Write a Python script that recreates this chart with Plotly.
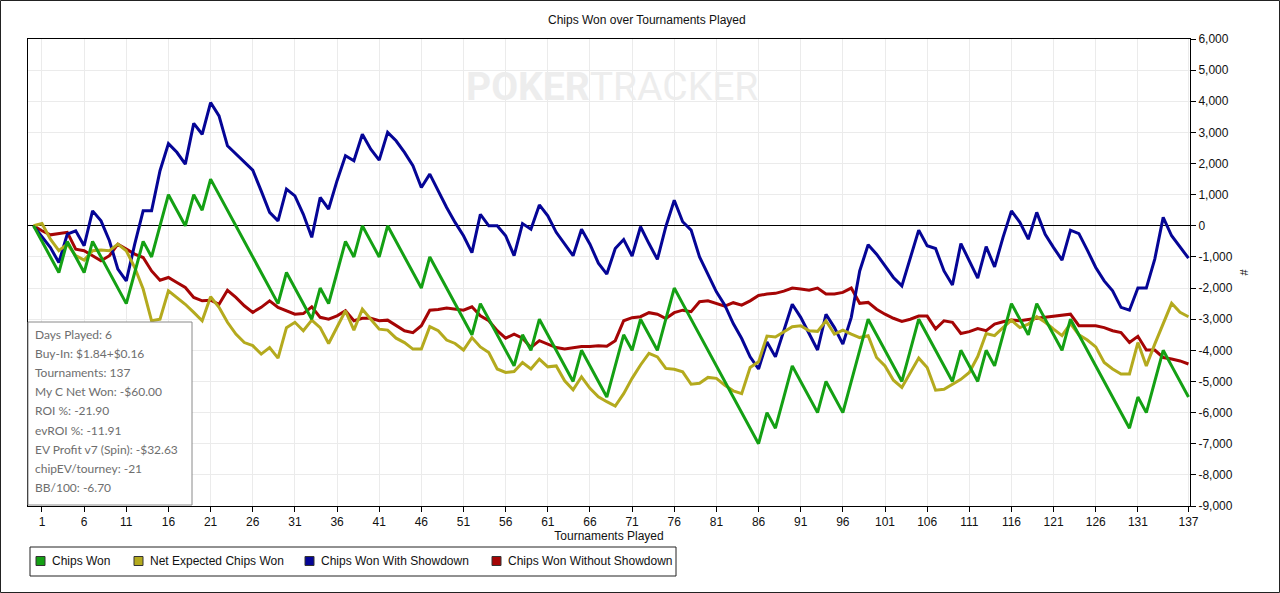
import plotly.graph_objects as go

# tournaments 0..137 (0 = start point)
tournaments = list(range(0, 138))

chips_won = [
    0, -500, -1000, -1500, -500, -1000, -1500, -500, -1000, -1500,
    -2000, -2500, -1500, -500, -1000, 0, 1000, 500, 0, 1000,
    500, 1500, 1000, 500, 0, -500, -1000, -1500, -2000, -2500,
    -1500, -2000, -2500, -3000, -2000, -2500, -1500, -500, -1000, 0,
    -500, -1000, 0, -500, -1000, -1500, -2000, -1000, -1500, -2000,
    -2500, -3000, -3500, -2500, -3000, -3500, -4000, -4500, -3500, -4000,
    -3000, -3500, -4000, -4500, -5000, -4000, -4500, -5000, -5500, -4500,
    -3500, -4000, -3000, -3500, -4000, -3000, -2000, -2500, -3000, -3500,
    -4000, -4500, -5000, -5500, -6000, -6500, -7000, -6000, -6500, -5500,
    -4500, -5000, -5500, -6000, -5000, -5500, -6000, -5000, -4000, -3000,
    -3500, -4000, -4500, -5000, -4000, -3000, -3500, -4000, -4500, -5000,
    -4000, -4500, -5000, -4000, -4500, -3500, -2500, -3000, -3500, -2500,
    -3000, -3500, -4000, -3000, -3500, -4000, -4500, -5000, -5500, -6000,
    -6500, -5500, -6000, -5000, -4000, -4500, -5000, -5500,
]

net_expected = [
    0, 75, -430, -800, -590, -960, -1100, -800, -780, -800,
    -590, -800, -1340, -2030, -3050, -3000, -2090, -2300, -2520, -2780,
    -3050, -2280, -2620, -3100, -3480, -3750, -3850, -4120, -3910, -4250,
    -3270, -3100, -3370, -3030, -3270, -3780, -3270, -2730, -3350, -2680,
    -3000, -3320, -3350, -3610, -3750, -3960, -3960, -3240, -3370, -3670,
    -3780, -3990, -3590, -3890, -4070, -4600, -4710, -4680, -4390, -4600,
    -4280, -4530, -4500, -4980, -5270, -4850, -5220, -5490, -5650, -5790,
    -5390, -4900, -4470, -4100, -4210, -4580, -4610, -4690, -5090, -5060,
    -4870, -4900, -5120, -5300, -5390, -4550, -4370, -3540, -3570, -3400,
    -3240, -3210, -3370, -3390, -3050, -3480, -3350, -3480, -3590, -3530,
    -4230, -4500, -4960, -5190, -4710, -4250, -4550, -5280, -5250, -5090,
    -4930, -4710, -4200, -3460, -3530, -3270, -3030, -3270, -3160, -2920,
    -3100, -3320, -3530, -3140, -3500, -3670, -3890, -4390, -4600, -4760,
    -4760, -3750, -4500, -3800, -3160, -2490, -2780, -2920,
]

with_showdown = [
    0, -370, -700, -1180, -270, -160, -640, 480, 160, -480,
    -1390, -1770, -590, 480, 480, 1770, 2640, 2360, 1980, 3290,
    2940, 3960, 3530, 2570, 2300, 2030, 1790, 1120, 430, 160,
    1180, 960, 370, -370, 910, 540, 1450, 2250, 2090, 2940,
    2460, 2110, 3000, 2730, 2360, 1930, 1230, 1660, 1120, 590,
    110, -320, -860, 370, 0, 0, -320, -960, 70, -110,
    670, 320, -210, -590, -960, -110, -590, -1200, -1550, -730,
    -440, -970, -30, -570, -1080, -30, 820, 130, -140, -1000,
    -1580, -2120, -2550, -3140, -3620, -4210, -4600, -3730, -4210, -3350,
    -2520, -2940, -3480, -3990, -2840, -3270, -3800, -2940, -1450, -610,
    -910, -1280, -1660, -1930, -1020, -140, -640, -730, -1450, -1900,
    -570, -1120, -1680, -670, -1320, -370, 480, 110, -430, 430,
    -270, -700, -1100, -140, -250, -780, -1340, -1770, -2090, -2620,
    -2710, -2000, -2000, -1070, 270, -320, -700, -1040,
]

without_showdown = [
    0, -160, -290, -250, -210, -750, -800, -960, -1120, -960,
    -590, -750, -910, -1020, -1450, -1750, -1660, -1820, -1980, -2300,
    -2410, -2390, -2520, -2070, -2300, -2570, -2780, -2620, -2410, -2620,
    -2730, -2840, -2820, -2600, -2940, -3000, -2890, -2730, -3050, -2970,
    -2970, -3050, -3030, -3210, -3370, -3430, -3210, -2710, -2690, -2640,
    -2680, -2710, -2600, -2890, -3050, -3370, -3610, -3480, -3610, -3910,
    -3690, -3800, -3910, -3960, -3910, -3880, -3880, -3850, -3870, -3690,
    -3050, -2950, -2920, -2790, -2840, -2980, -2790, -2710, -2760, -2440,
    -2410, -2490, -2580, -2470, -2550, -2410, -2240, -2190, -2170, -2100,
    -2000, -2030, -2070, -2000, -2190, -2190, -2140, -2000, -2490, -2460,
    -2680, -2840, -2970, -3070, -3000, -2900, -2900, -3310, -3050, -3100,
    -3460, -3400, -3300, -3370, -3160, -3080, -3030, -3050, -3000, -2970,
    -2940, -2910, -2860, -2840, -3210, -3210, -3210, -3270, -3370, -3430,
    -3750, -3550, -3990, -3990, -4230, -4280, -4340, -4440,
]

x_ticks = [1, 6, 11, 16, 21, 26, 31, 36, 41, 46, 51, 56, 61, 66, 71, 76,
           81, 86, 91, 96, 101, 106, 111, 116, 121, 126, 131, 137]
y_ticks = [6000, 5000, 4000, 3000, 2000, 1000, 0, -1000, -2000, -3000,
           -4000, -5000, -6000, -7000, -8000, -9000]
y_labels = ["6,000", "5,000", "4,000", "3,000", "2,000", "1,000", "0",
            "-1,000", "-2,000", "-3,000", "-4,000", "-5,000", "-6,000",
            "-7,000", "-8,000", "-9,000"]

stats = [
    "Days Played: 6",
    "Buy-In: $1.84+$0.16",
    "Tournaments: 137",
    "My C Net Won: -$60.00",
    "ROI %: -21.90",
    "evROI %: -11.91",
    "EV Profit v7 (Spin): -$32.63",
    "chipEV/tourney: -21",
    "BB/100: -6.70",
]

series = [
    ("Chips Won", chips_won, "rgb(20,160,20)"),
    ("Net Expected Chips Won", net_expected, "rgb(180,170,30)"),
    ("Chips Won With Showdown", with_showdown, "rgb(5,5,150)"),
    ("Chips Won Without Showdown", without_showdown, "rgb(165,5,5)"),
]

W, H = 1280, 593
L, R, T, B = 28, 1190, 39, 506   # plot area in pixels
FONT = "Liberation Sans, Arial, sans-serif"


def px(x):
    return (x - L) / (R - L)


def py(y):
    return (B - y) / (B - T)


fig = go.Figure()

# draw in reverse so Chips Won ends on top
for name, vals, color in reversed(series):
    fig.add_trace(go.Scatter(x=tournaments, y=vals, mode="lines", name=name,
                             line=dict(color=color, width=3), showlegend=False))

shapes = []
annotations = []

# outer frame
shapes.append(dict(type="rect", xref="paper", yref="paper",
                   x0=px(0.5), x1=px(W - 0.5), y0=py(H - 0.5), y1=py(0.5),
                   line=dict(color="#222", width=1), layer="below"))

# stats box
shapes.append(dict(type="rect", xref="paper", yref="paper",
                   x0=px(28), x1=px(192), y0=py(505), y1=py(322),
                   fillcolor="white", line=dict(color="#8a8a8a", width=1), layer="above"))
for i, s in enumerate(stats):
    annotations.append(dict(xref="paper", yref="paper", x=px(33), y=py(334 + i * 19.2),
                            xanchor="left", yanchor="middle", text=s, showarrow=False,
                            font=dict(family="Lato, sans-serif", size=12, color="#6e6e6e")))

# legend box
shapes.append(dict(type="rect", xref="paper", yref="paper",
                   x0=px(30), x1=px(676), y0=py(576), y1=py(547),
                   fillcolor="white", line=dict(color="#222", width=1), layer="above"))
legend_x = [50, 148, 319, 506]
for (name, vals, color), lx in zip(series, legend_x):
    shapes.append(dict(type="rect", xref="paper", yref="paper",
                       x0=px(lx - 14), x1=px(lx - 5), y0=py(565.5), y1=py(556.5),
                       fillcolor=color, line=dict(color="#333", width=1), layer="above"))
    annotations.append(dict(xref="paper", yref="paper", x=px(lx), y=py(561),
                            xanchor="left", yanchor="middle", text=name, showarrow=False,
                            font=dict(family=FONT, size=12, color="#111")))

# title
annotations.append(dict(xref="paper", yref="paper", x=px(647), y=py(20),
                        xanchor="center", yanchor="middle", showarrow=False,
                        text="Chips Won over Tournaments Played",
                        font=dict(family=FONT, size=12, color="#111")))

# watermark
annotations.append(dict(xref="paper", yref="paper", x=px(612), y=py(87),
                        xanchor="center", yanchor="middle", showarrow=False,
                        text="<b>POKER</b>TRACKER",
                        font=dict(family="Roboto, sans-serif", size=39, color="#ededed")))

fig.update_layout(
    width=W, height=H,
    margin=dict(l=L, r=W - R, t=T, b=H - B),
    paper_bgcolor="white", plot_bgcolor="white",
    font=dict(family=FONT, size=12, color="#111"),
    shapes=shapes, annotations=annotations,
    showlegend=False,
)

fig.update_xaxes(
    range=[-0.66, 137.18], tickvals=x_ticks, ticks="outside", ticklen=5,
    tickcolor="black", showline=True, linecolor="black", linewidth=1, mirror=True,
    showgrid=True, gridcolor="#ebebeb", zeroline=False,
    title=dict(text="Tournaments Played", standoff=2, font=dict(size=12)),
    tickfont=dict(size=12),
)
fig.update_yaxes(
    range=[-9000, 6000], side="right", tickvals=y_ticks, ticktext=y_labels,
    ticks="outside", ticklen=5, tickcolor="black",
    showline=True, linecolor="black", linewidth=1, mirror=True,
    showgrid=True, gridcolor="#ebebeb",
    zeroline=True, zerolinecolor="black", zerolinewidth=1,
    title=dict(text="#", standoff=8, font=dict(size=11)),
    tickfont=dict(size=12),
)

# page body margin would shift the figure by 8px
fig.write_html("out.html", config={"displayModeBar": False},
               post_script="document.body.style.margin='0';")
